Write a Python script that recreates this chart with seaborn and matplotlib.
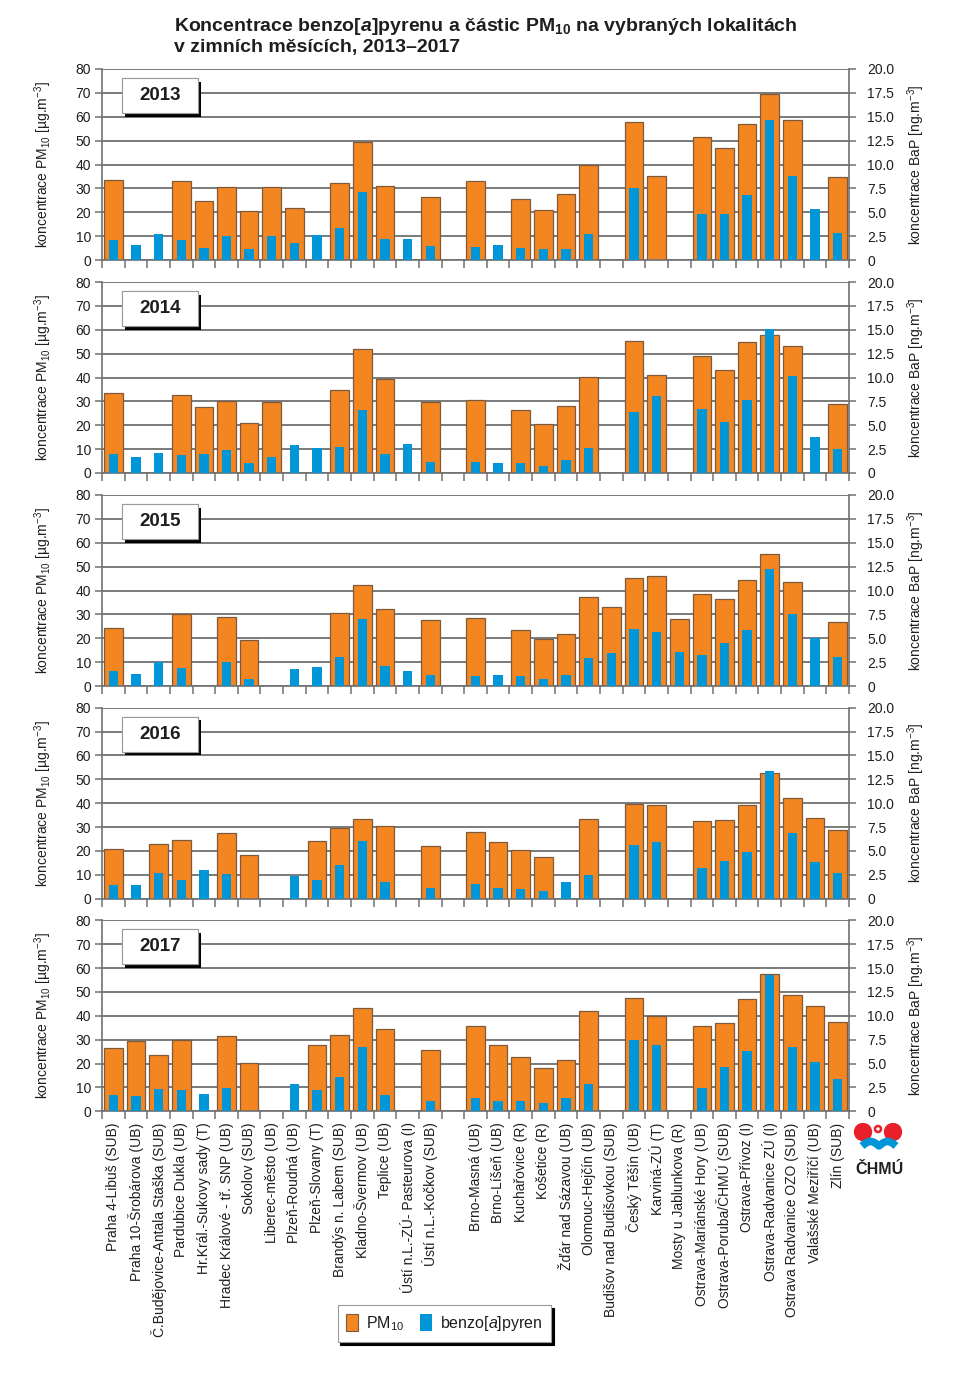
import numpy as np
import pandas as pd
import matplotlib
matplotlib.use("Agg")
import matplotlib.pyplot as plt
import seaborn as sns
from matplotlib import font_manager as fm
from matplotlib import patheffects as pe
from matplotlib.patches import Rectangle, Circle, Patch
from matplotlib.ticker import FuncFormatter

# ---------------- data ----------------
stations = [
    "Praha 4-Libuš (SUB)", "Praha 10-Šrobárova (UB)", "Č.Budějovice-Antala Staška (SUB)",
    "Pardubice Dukla (UB)", "Hr.Král.-Sukovy sady (T)", "Hradec Králové - tř. SNP (UB)",
    "Sokolov (SUB)", "Liberec-město (UB)", "Plzeň-Roudná (UB)", "Plzeň-Slovany (T)",
    "Brandýs n. Labem (SUB)", "Kladno-Švermov (UB)", "Teplice (UB)",
    "Ústí n.L.-ZÚ- Pasteurova (I)", "Ústí n.L.-Kočkov (SUB)", " ",
    "Brno-Masná (UB)", "Brno-Líšeň (UB)", "Kuchařovice (R)", "Košetice (R)",
    "Žďár nad Sázavou (UB)", "Olomouc-Hejčín (UB)", "Budišov nad Budišovkou (SUB)",
    "Český Těšín (UB)", "Karviná-ZÚ (T)", "Mosty u Jablunkova (R)",
    "Ostrava-Mariánské Hory (UB)", "Ostrava-Poruba/ČHMÚ (SUB)", "Ostrava-Přívoz (I)",
    "Ostrava-Radvanice ZÚ (I)", "Ostrava Radvanice OZO (SUB)", "Valašské Meziříčí (UB)",
    "Zlín (SUB)",
]
years = ["2013", "2014", "2015", "2016", "2017"]

pm10_2013 = [33.7, None, None, 33.0, 24.6, 30.5, 20.6, 30.5, 21.7, None, 32.2, 49.5, 31.0, None, 26.3, None,
             33.1, None, 25.5, 20.8, 27.6, 39.7, None, 57.6, 35.0, None, 51.5, 47.1, 56.9, 69.5, 58.6, None, 34.7]
bap_2013 = [2.1, 1.6, 2.7, 2.1, 1.3, 2.5, 1.15, 2.5, 1.8, 2.6, 3.3, 7.1, 2.2, 2.2, 1.5, None,
            1.4, 1.6, 1.26, 1.15, 1.1, 2.7, None, 7.55, None, None, 4.8, 4.8, 6.8, 14.65, 8.8, 5.3, 2.8]

pm10_2014 = [33.3, None, None, 32.5, 27.7, 30.1, 20.8, 29.8, None, None, 34.6, 52.1, 39.4, None, 29.8, None,
             30.7, None, 26.3, 20.6, 28.2, 40.3, None, 55.1, 41.1, None, 48.8, 43.3, 54.9, 57.8, 53.2, None, 29.1]
bap_2014 = [1.95, 1.7, 2.1, 1.9, 1.95, 2.45, 1.05, 1.7, 2.95, 2.6, 2.7, 6.6, 2.0, 3.0, 1.15, None,
            1.2, 1.05, 1.05, 0.7, 1.35, 2.6, None, 6.4, 8.1, None, 6.7, 5.3, 7.65, 15.1, 10.2, 3.8, 2.5]

pm10_2015 = [24.1, None, None, 30.0, None, 29.1, 19.1, None, None, None, 30.5, 42.1, 32.3, None, 27.7, None,
             28.3, None, 23.4, 19.7, 21.6, 37.1, 32.9, 45.2, 45.9, 27.9, 38.5, 36.4, 44.6, 55.3, 43.6, None, 26.9]
bap_2015 = [1.53, 1.25, 2.5, 1.9, None, 2.5, 0.73, None, 1.78, 2.0, 3.07, 6.97, 2.1, 1.53, 1.15, None,
            1.0, 1.2, 1.08, 0.7, 1.1, 2.9, 3.5, 6.0, 5.7, 3.6, 3.24, 4.5, 5.9, 12.3, 7.5, 5.0, 3.03]

pm10_2016 = [20.7, None, 22.8, 24.4, None, 27.5, 18.2, None, None, 24.2, 29.7, 33.5, 30.3, None, 22.1, None,
             28.1, 23.6, 20.3, 17.3, None, 33.2, None, 39.8, 39.1, None, 32.4, 33.0, 39.1, 52.7, 42.0, 33.7, 28.6]
bap_2016 = [1.43, 1.43, 2.7, 1.92, 3.04, 2.58, None, None, 2.34, 2.0, 3.5, 6.0, 1.78, None, 1.12, None,
            1.54, 1.08, 1.0, 0.8, 1.8, 2.5, None, 5.6, 5.9, None, 3.25, 3.9, 4.85, 13.4, 6.9, 3.84, 2.65]

pm10_2017 = [26.5, 29.5, 23.6, 29.9, None, 31.4, 20.1, None, None, 27.8, 31.8, 43.3, 34.4, None, 25.6, None,
             35.6, 27.8, 22.6, 18.0, 21.4, 42.0, None, 47.5, 39.8, None, 35.8, 36.9, 47.1, 57.4, 48.6, 44.0, 37.4]
bap_2017 = [1.7, 1.64, 2.37, 2.23, 1.85, 2.44, None, None, 2.9, 2.23, 3.56, 6.7, 1.75, None, 1.08, None,
            1.4, 1.12, 1.12, 0.87, 1.4, 2.86, None, 7.47, 6.95, None, 2.4, 4.64, 6.3, 14.24, 6.77, 5.2, 3.39]

pm10_all = [pm10_2013, pm10_2014, pm10_2015, pm10_2016, pm10_2017]
bap_all = [bap_2013, bap_2014, bap_2015, bap_2016, bap_2017]

pm_ticks = list(range(0, 81, 10))
bap_ticks = [0, 2.5, 5.0, 7.5, 10.0, 12.5, 15.0, 17.5, 20.0]

# ---------------- style ----------------
sns.set_style("white")
names = {f.name for f in fm.fontManager.ttflist}
REG = "Liberation Sans" if "Liberation Sans" in names else "DejaVu Sans"
NARROW = "Liberation Sans Narrow" if "Liberation Sans Narrow" in names else REG
plt.rcParams["font.family"] = [REG, "DejaVu Sans"]
plt.rcParams["mathtext.fontset"] = "custom"
plt.rcParams["mathtext.rm"] = REG
plt.rcParams["mathtext.it"] = REG + ":italic"
plt.rcParams["mathtext.bf"] = REG + ":bold"
try:
    plt.rcParams["mathtext.bfit"] = REG + ":italic:bold"
except Exception:
    pass

ORANGE = "#F48622"
EDGE = "#7d5a3c"
BLUE = "#0096D8"
GRID = "#707070"
TXT = "#1e1e1e"
RED = "#E8202A"

FW, FH = 976, 1376
fig = plt.figure(figsize=(FW / 100, FH / 100), dpi=100)

L = 102 / FW
W = 747 / FW
HAX = 191 / FH
bottoms_px = [260, 473, 686, 898.7, 1111.3]

n = len(stations)
for k, year in enumerate(years):
    ax = fig.add_axes([L, 1 - bottoms_px[k] / FH, W, HAX])
    df = pd.DataFrame({
        "station": stations,
        "pm10": np.array(pm10_all[k], dtype=float),
        "bap": np.array(bap_all[k], dtype=float),
    })
    sns.barplot(data=df, x="station", y="pm10", order=stations, color=ORANGE,
                saturation=1, width=0.82, edgecolor=EDGE, linewidth=0.9,
                errorbar=None, ax=ax)
    ax2 = ax.twinx()
    sns.barplot(data=df, x="station", y="bap", order=stations, color=BLUE,
                saturation=1, width=0.41, linewidth=0, errorbar=None, ax=ax2)

    ax.set_ylim(0, 80)
    ax2.set_ylim(0, 20)
    ax.set_xlim(-0.5, n - 0.5)
    ax.set_yticks(pm_ticks)
    ax2.set_yticks(bap_ticks)
    ax2.yaxis.set_major_formatter(FuncFormatter(lambda v, p: "0" if v == 0 else f"{v:.1f}"))
    ax.yaxis.grid(True, color=GRID, lw=1.3)
    ax.xaxis.grid(False)
    ax2.grid(False)
    ax.set_axisbelow(True)

    for s in ["top", "right"]:
        ax.spines[s].set_visible(False)
    for s in ["top", "left", "bottom"]:
        ax2.spines[s].set_visible(False)
    ax.spines["left"].set_color(GRID)
    ax.spines["bottom"].set_color(GRID)
    ax2.spines["right"].set_color(GRID)
    for sp in (ax.spines["left"], ax.spines["bottom"], ax2.spines["right"]):
        sp.set_linewidth(1.2)

    ax.tick_params(axis="y", left=True, length=5, width=1.1, color=GRID, pad=3,
                   labelsize=10, labelcolor=TXT)
    ax2.tick_params(axis="y", right=True, length=5, width=1.1, color=GRID, pad=8,
                    labelsize=10, labelcolor=TXT)
    for lab in ax.get_yticklabels() + ax2.get_yticklabels():
        lab.set_fontfamily(NARROW)

    ax.set_xticks(range(n))
    ax.set_xticks(np.arange(-0.5, n, 1.0), minor=True)
    ax.tick_params(axis="x", which="major", bottom=True, length=0, pad=8)
    ax.tick_params(axis="x", which="minor", bottom=True, length=6, width=1.1,
                   color=GRID, direction="out")
    if k == len(years) - 1:
        ax.set_xticklabels(stations, rotation=90, ha="center", va="top",
                           fontsize=10, color=TXT)
    else:
        ax.set_xticklabels([])
    ax.set_xlabel("")

    ax.set_ylabel("koncentrace PM$_{10}$ [µg.m$^{-3}$]", fontsize=10, color=TXT)
    ax.yaxis.set_label_coords(-0.064, 0.5)
    ax2.set_ylabel("koncentrace BaP [ng.m$^{-3}$]", fontsize=10, color=TXT)
    ax2.yaxis.set_label_coords(1.075, 0.5)

    # year box
    rect = Rectangle((0.0268, 0.770), 0.1017, 0.183, transform=ax.transAxes,
                     fc="white", ec="#9a9a9a", lw=0.8, zorder=5, clip_on=False)
    rect.set_path_effects([pe.withSimplePatchShadow(offset=(2.4, -2.6),
                                                    shadow_rgbFace="black", alpha=1.0),
                           pe.Normal()])
    ax2.add_patch(rect)
    ax2.text(0.0776, 0.861, year, transform=ax.transAxes, ha="center", va="center",
             fontsize=13.5, fontweight="bold", color=TXT, zorder=6)

# title
fig.text(174 / FW, 1 - 31 / FH,
         "Koncentrace benzo[$\\mathbfit{a}$]pyrenu a částic PM$_{\\mathbf{10}}$ na vybraných lokalitách",
         ha="left", va="baseline", fontsize=14, fontweight="bold", color=TXT,
         family=[NARROW, "DejaVu Sans"])
fig.text(174 / FW, 1 - 52 / FH, "v zimních měsících, 2013–2017",
         ha="left", va="baseline", fontsize=14, fontweight="bold", color=TXT,
         family=[NARROW, "DejaVu Sans"])

# legend
handles = [Patch(fc=ORANGE, ec=EDGE, lw=0.8), Patch(fc=BLUE, ec=BLUE, lw=0)]
leg = fig.legend(handles, ["PM$_{10}$", "benzo[$\\mathit{a}$]pyren"], loc="center",
                 bbox_to_anchor=(444.5 / FW, 1 - 1323.5 / FH), ncol=2, frameon=True,
                 fancybox=False, shadow={"color": "black", "alpha": 1.0},
                 fontsize=11.5, handlelength=0.75, handleheight=1.2, handletextpad=0.5,
                 columnspacing=1.0, borderpad=0.55, edgecolor="#9a9a9a")
leg.get_frame().set_linewidth(0.8)
for t in leg.get_texts():
    t.set_color(TXT)

# CHMU logo
lax = fig.add_axes([853 / FW, 1 - 1177 / FH, 52 / FW, 54 / FH])
lax.set_xlim(0, 52)
lax.set_ylim(54, 0)
lax.axis("off")
lax.add_patch(Circle((10, 9), 8.5, color=RED))
lax.add_patch(Circle((40, 9), 8.5, color=RED))
lax.add_patch(Circle((25, 6), 3.0, fc="none", ec=RED, lw=1.8))
wx = np.linspace(9, 43, 80)
wy = 23 - 4.5 * np.abs(np.sin((wx - 9) / 34 * 2 * np.pi))
lax.plot(wx, wy, color=BLUE, lw=5.5, solid_capstyle="butt")
lax.text(26, 47, "ČHMÚ", ha="center", va="center", fontsize=11.5, fontweight="bold",
         color="#222222")

fig.savefig("out.png", dpi=100)
